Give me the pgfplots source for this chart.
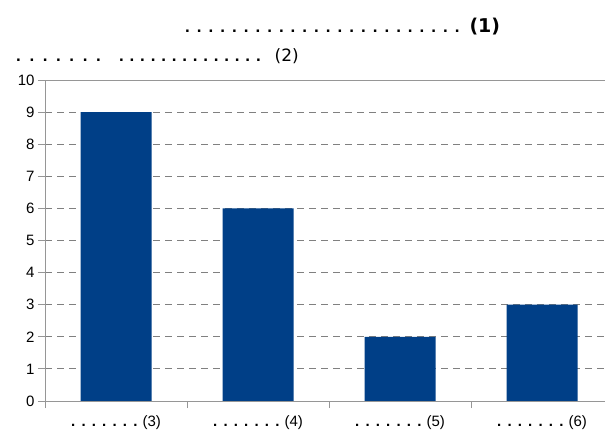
\documentclass[border=0pt]{standalone}
\usepackage{fontspec}
\setmainfont{Liberation Sans}
\newfontfamily\dv{DejaVu Sans}
\usepackage{pgfplots}
\pgfplotsset{compat=1.18}
\definecolor{barblue}{RGB}{0,63,135}
\definecolor{gridgray}{RGB}{128,128,128}
\definecolor{axisgray}{RGB}{150,150,150}
\newcommand\D{.\hspace{7.0pt}}
\newcommand\F{.\hspace{8.6pt}}
\newcommand\G{.\hspace{5.8pt}}
\newcommand\E{.\hspace{6.2pt}}
\newcommand\lab[1]{{\bfseries\E\E\E\E\E\E.}\hspace{5pt}(#1)}
\begin{document}
\begin{tikzpicture}
\begin{axis}[
  at={(45pt,30pt)}, anchor=south west,
  scale only axis, width=568pt, height=321pt,
  xmin=-0.5, xmax=3.5, ymin=0, ymax=10,
  ytick={0,1,...,10},
  xtick={-0.5,0.5,1.5,2.5,3.5},
  x tick label as interval,
  xticklabels={\lab{3},\lab{4},\lab{5},\lab{6}},
  x tick style={axisgray, line width=0.8pt},
  ymajorgrids,
  grid style={gridgray, line width=0.8pt, dash pattern=on 7pt off 5pt},
  axis line style={axisgray, line width=0.9pt},
  y tick style={axisgray, line width=0.8pt},
  major tick length=7pt,
  tick align=outside,
  ytick pos=left, xtick pos=left,
  ticklabel style={font=\fontsize{15}{17}\selectfont},
  xticklabel style={anchor=base, yshift=-18pt},
  /pgf/number format/assume math mode=true,
]
\addplot[ybar, bar width=71pt, fill=barblue, draw=none] coordinates {(0,9) (1,6) (2,2) (3,3)};
\end{axis}
\node[anchor=base west, inner sep=0pt, font=\fontsize{17}{19}\selectfont\bfseries] at (185pt,398pt) {\D\D\D\D\D\D\D\D\D\D\D\D\D\D\D\D\D\D\D\D\D\D\D.\hspace{10pt}{\dv\fontsize{19}{21}\selectfont\bfseries (1)}};
\node[anchor=base west, inner sep=0pt, font=\fontsize{17}{19}\selectfont\bfseries] at (16pt,369pt) {\F\F\F\F\F\F.\hspace{18.3pt}\G\G\G\G\G\G\G\G\G\G\G\G\G.\hspace{14pt}{\dv\fontsize{17}{19}\selectfont\mdseries (2)}};
\pgfresetboundingbox
\useasboundingbox (0,0) rectangle (605pt,431pt);
\end{tikzpicture}
\end{document}
